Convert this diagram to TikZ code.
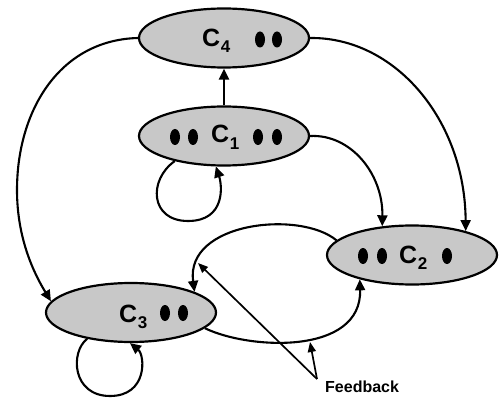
\documentclass[tikz,border=0pt]{standalone}
\usepackage{fontspec}
\setmainfont{Liberation Sans}
\usetikzlibrary{shapes.geometric,arrows.meta}
\definecolor{cellgray}{RGB}{200,200,200}
\newcommand\csub[1]{\kern0.5pt\raisebox{-6pt}{\fontsize{17}{17}\selectfont #1}}
\begin{document}
\begin{tikzpicture}[x=1pt,y=-1pt,
  cell/.style={ellipse,draw=black,fill=cellgray,line width=2.2pt,minimum width=170pt,minimum height=59pt,inner sep=0pt},
  arr/.style={line width=2.1pt,-{Triangle[length=11pt,width=10pt]}},
  farr/.style={line width=1.7pt,-{Triangle[length=10pt,width=8pt]}},
  lab/.style={font=\fontsize{25}{25}\selectfont\bfseries,anchor=base west,inner sep=0pt},
  fblab/.style={font=\fontsize{16}{16}\selectfont\bfseries,anchor=base west,inner sep=0pt},
  dotshape/.style={fill=black}
]
\useasboundingbox (0,0) rectangle (501,401);
\node[cell] (c4) at (224,38) {};
\node[cell] (c1) at (224,136) {};
\node[cell] (c2) at (412,255) {};
\node[cell] (c3) at (131,312.5) {};
% labels
\node[lab] (t4) at (202,47) {C\csub{4}};
\node[lab] (t1) at (211,143) {C\csub{1}};
\node[lab] (t2) at (399,263) {C\csub{2}};
\node[lab] (t3) at (119,322) {C\csub{3}};
% dots
\foreach \p in {(260,39.5),(277,39.5),(175,137),(193,137),(258,137),(277,137),(363,256),(382,256),(447,256),(165,313),(183,313)}
  \fill[dotshape] \p ellipse [x radius=5pt, y radius=8pt];
% connectors
\draw[arr] (c1.north) -- (c4.south);
\draw[arr] (c1.207) .. controls (148,180) and (150,221) .. (188,221) .. controls (226,221) and (222,185) .. (c1.255);
\draw[arr] (c1.east) .. controls (351,134) and (383,174) .. (c2.136);
\draw[arr] (c4.east) .. controls (395,37) and (465,120) .. (c2.24);
\draw[arr] (c4.west) .. controls (60,40) and (17,110) .. (17,190) .. controls (17,240) and (35,275) .. (c3.172);
\draw[arr] (c3.211) .. controls (70,352) and (72,396) .. (110,396) .. controls (148,396) and (145,355) .. (c3.268);
\draw[arr] (c2.169) .. controls (300,210) and (185,222) .. (c3.18);
\draw[arr] (c3.348) .. controls (250,350) and (362,355) .. (c2.205);
% feedback
\node[fblab] (fb) at (325,392) {Feedback};
\coordinate (apex) at (317,379);
\coordinate (fbtop) at (198,263);
\coordinate (fbbot) at (310,342);
\draw[farr] (apex) -- (fbtop);
\draw[farr] (apex) -- (fbbot);
\end{tikzpicture}
\end{document}
